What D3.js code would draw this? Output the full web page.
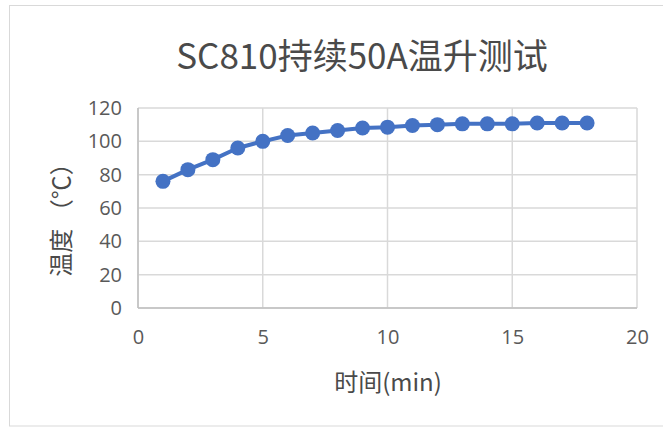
<!DOCTYPE html>
<html>
<head>
<meta charset="utf-8">
<script src="https://cdn.jsdelivr.net/npm/d3@7"></script>
<style>
  html, body { margin: 0; padding: 0; background: #fff; }
  svg { display: block; }
  text { font-family: "Noto Sans CJK SC", "Open Sans", sans-serif; }
</style>
</head>
<body>
<svg id="chart" width="663" height="428"></svg>
<script>
// Temperature rise test: minutes vs. temperature (°C)
const minutes = [1, 2, 3, 4, 5, 6, 7, 8, 9, 10, 11, 12, 13, 14, 15, 16, 17, 18];
const temperatures = [76, 83, 89, 96, 100, 103.5, 105, 106.5, 108, 108.5, 109.5, 110, 110.5, 110.5, 110.5, 111, 111, 111];
const xTicks = [0, 5, 10, 15, 20];
const yTicks = [0, 20, 40, 60, 80, 100, 120];
const titleText = "SC810持续50A温升测试";
const xTitle = "时间(min)";
const yTitle = "温度 （℃）";

const svg = d3.select("#chart");
const W = 663, H = 428;
const plot = { left: 138, right: 637, top: 108, bottom: 308 };

// chart frame
svg.append("rect")
  .attr("x", 9.5).attr("y", 5.5)
  .attr("width", W).attr("height", 420.5)
  .attr("fill", "#fff").attr("stroke", "#d9d9d9").attr("stroke-width", 1);

const x = d3.scaleLinear().domain([0, 20]).range([plot.left, plot.right]);
const y = d3.scaleLinear().domain([0, 120]).range([plot.bottom, plot.top]);

// gridlines
const grid = svg.append("g").attr("stroke", "#d9d9d9").attr("stroke-width", 1.5);
grid.selectAll("line.h").data(yTicks).join("line")
  .attr("x1", plot.left).attr("x2", plot.right)
  .attr("y1", d => y(d)).attr("y2", d => y(d));
grid.selectAll("line.v").data(xTicks).join("line")
  .attr("y1", plot.top).attr("y2", plot.bottom)
  .attr("x1", d => x(d)).attr("x2", d => x(d));

// axis lines
svg.append("line")
  .attr("x1", plot.left).attr("x2", plot.right)
  .attr("y1", y(0)).attr("y2", y(0))
  .attr("stroke", "#bfbfbf").attr("stroke-width", 1.5);
svg.append("line")
  .attr("x1", x(0)).attr("x2", x(0))
  .attr("y1", plot.top).attr("y2", plot.bottom)
  .attr("stroke", "#bfbfbf").attr("stroke-width", 1.5);

// axes (labels only)
const yAxis = d3.axisLeft(y).tickValues(yTicks).tickSize(0).tickPadding(16);
const gy = svg.append("g").attr("transform", `translate(${plot.left},0)`).call(yAxis);
gy.select(".domain").remove();
gy.selectAll("text").attr("fill", "#595959").style("font-size", "20px")
  .style("font-family", "'Open Sans', 'Noto Sans', sans-serif");

const xAxis = d3.axisBottom(x).tickValues(xTicks).tickSize(0).tickPadding(22);
const gx = svg.append("g").attr("transform", `translate(0,${plot.bottom})`).call(xAxis);
gx.select(".domain").remove();
gx.selectAll("text").attr("fill", "#595959").style("font-size", "20px")
  .style("font-family", "'Open Sans', 'Noto Sans', sans-serif");

// series line and markers
const pts = minutes.map((m, i) => [m, temperatures[i]]);
svg.append("path")
  .datum(pts)
  .attr("fill", "none")
  .attr("stroke", "#4472c4")
  .attr("stroke-width", 4)
  .attr("stroke-linejoin", "round")
  .attr("d", d3.line().x(d => x(d[0])).y(d => y(d[1])));
svg.append("g").selectAll("circle").data(pts).join("circle")
  .attr("cx", d => x(d[0])).attr("cy", d => y(d[1]))
  .attr("r", 7.5).attr("fill", "#4472c4");

// titles
svg.append("text")
  .attr("x", 362).attr("y", 53)
  .attr("text-anchor", "middle").attr("dominant-baseline", "central")
  .attr("fill", "#4a4a4a").style("font-size", "35px")
  .text(titleText);

svg.append("text")
  .attr("x", 388).attr("y", 380)
  .attr("text-anchor", "middle").attr("dominant-baseline", "central")
  .attr("fill", "#4a4a4a").style("font-size", "24px")
  .text(xTitle);

svg.append("text")
  .attr("transform", "translate(59,214) rotate(-90)")
  .attr("text-anchor", "middle").attr("dominant-baseline", "central")
  .attr("fill", "#4a4a4a").style("font-size", "24px")
  .text(yTitle);
</script>
</body>
</html>
